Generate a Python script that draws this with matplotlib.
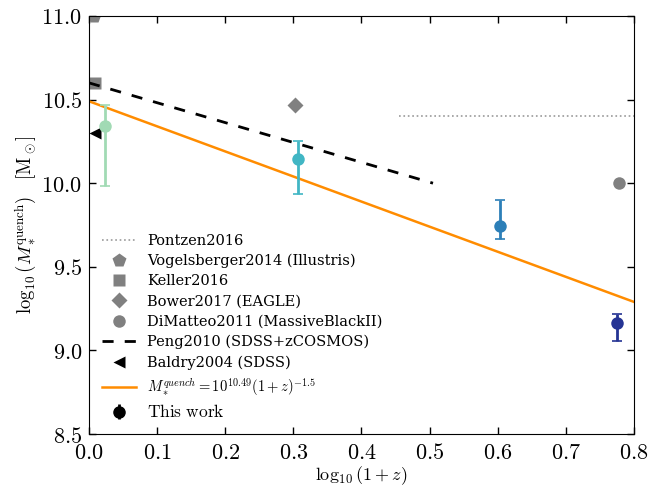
import matplotlib
matplotlib.use("Agg")
import matplotlib.pyplot as plt
from matplotlib.ticker import FuncFormatter
import numpy as np

plt.rcParams['mathtext.fontset'] = 'cm'
plt.rcParams['font.family'] = 'DejaVu Serif'

# This work
tw_x = [0.024, 0.307, 0.603, 0.775]
tw_y = [10.345, 10.145, 9.745, 9.165]
tw_lo = [9.985, 9.935, 9.665, 9.055]
tw_hi = [10.465, 10.25, 9.9, 9.215]
tw_colors = ['#a1dab4', '#41b6c4', '#2c7fb8', '#253494']

# Literature
pontzen_x = [0.455, 0.8]
pontzen_y = [10.4, 10.4]
vogel_x, vogel_y = [0.008], [11.0]
keller_x, keller_y = [0.009], [10.6]
bower_x, bower_y = [0.302], [10.47]
dimatteo_x, dimatteo_y = [0.778], [10.0]
peng_x = [0.0, 0.505]
peng_y = [10.6, 10.0]
baldry_x, baldry_y = [0.009], [10.3]
fit_norm, fit_slope = 10.49, -1.5
fit_x = [0.0, 0.8]

fig = plt.figure(figsize=(6.61, 4.87), dpi=100)
ax = fig.add_axes([0.1346, 0.1088, 0.8245, 0.8584])

gray = '#808080'
ax.plot(pontzen_x, pontzen_y, ls=':', color='#999999', lw=1.2, label='Pontzen2016')
ax.plot(vogel_x, vogel_y, 'p', color=gray, ms=10, mec='none', label='Vogelsberger2014 (Illustris)')
ax.plot(keller_x, keller_y, 's', color=gray, ms=9, mec='none', label='Keller2016')
ax.plot(bower_x, bower_y, 'D', color=gray, ms=8, mec='none', label='Bower2017 (EAGLE)')
ax.plot(dimatteo_x, dimatteo_y, 'o', color=gray, ms=9, mec='none', label='DiMatteo2011 (MassiveBlackII)')
ax.plot(peng_x, peng_y, '--', color='black', lw=2, dashes=(4, 4), label='Peng2010 (SDSS+zCOSMOS)')
ax.plot(baldry_x, baldry_y, '<', color='black', ms=9, mec='none', label='Baldry2004 (SDSS)')
fx = np.array(fit_x)
ax.plot(fx, fit_norm + fit_slope * fx, color='#ff8c00', lw=1.8,
        label=r'$M_*^{quench} = 10^{10.49}(1+z)^{-1.5}$')

for i in range(len(tw_x)):
    yerr = [[tw_y[i] - tw_lo[i]], [tw_hi[i] - tw_y[i]]]
    ax.errorbar([tw_x[i]], [tw_y[i]], yerr=yerr, fmt='o', color=tw_colors[i], ms=9,
                mec='none', capsize=3.5, elinewidth=2, capthick=1.2)
ax.errorbar([], [], yerr=[], fmt='o', color='black', ms=8, capsize=3, elinewidth=2,
            label=r'$\mathrm{This\ work}$')

ax.set_xlim(0, 0.8)
ax.set_ylim(8.5, 11.0)
ax.set_xticks(np.arange(0, 0.81, 0.1))
ax.set_yticks(np.arange(8.5, 11.01, 0.5))
fmt = FuncFormatter(lambda v, p: r'$%.1f$' % v)
ax.xaxis.set_major_formatter(fmt)
ax.yaxis.set_major_formatter(fmt)
ax.tick_params(direction='in', top=True, right=True, length=5, width=1, labelsize=16)
ax.tick_params(axis='x', pad=6)
ax.tick_params(axis='y', pad=5)

ax.set_xlabel(r'$\log_{10}(1+z)$', fontsize=13)
ax.xaxis.set_label_coords(0.5, -0.073)
ax.set_ylabel(r'$\log_{10}(M_*^{\rm quench})\ \ \ [{\rm M}_\odot]$', fontsize=13.5, labelpad=2)

leg = ax.legend(loc='lower left', frameon=False, fontsize=10.5, numpoints=1,
                labelspacing=0.42, handlelength=2.3, borderaxespad=0.5,
                bbox_to_anchor=(0.0, 0.0))
leg.get_texts()[-1].set_fontsize(12.5)

fig.savefig('out.png', dpi=100)
